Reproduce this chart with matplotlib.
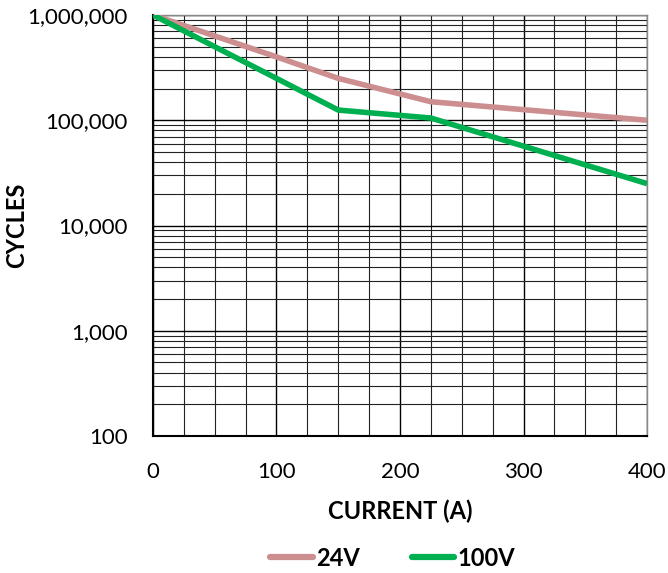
import matplotlib
matplotlib.use("Agg")
import matplotlib.pyplot as plt
from matplotlib.ticker import FixedLocator, FuncFormatter, LogLocator, NullFormatter

current = [0, 100, 150, 225, 400]
cycles_24v = [1000000, 400000, 250000, 150000, 100000]
cycles_100v = [1000000, 250000, 125000, 105000, 25000]

series_names = ["24V", "100V"]
colors = ["#CC8E8E", "#00B050"]

plt.rcParams["font.family"] = ["Lato", "DejaVu Sans"]

fig = plt.figure(figsize=(6.68, 5.73), dpi=100)
ax = fig.add_axes([0.229, 0.2391, 0.7396, 0.7347])

ax.plot(current, cycles_24v, color=colors[0], lw=4.0, solid_capstyle="butt",
        label=series_names[0], zorder=3)
ax.plot(current, cycles_100v, color=colors[1], lw=4.0, solid_capstyle="butt",
        label=series_names[1], zorder=4)

ax.set_yscale("log")
ax.set_xlim(0, 400)
ax.set_ylim(100, 1000000)

ax.xaxis.set_major_locator(FixedLocator(range(0, 401, 100)))
ax.xaxis.set_minor_locator(FixedLocator(range(0, 401, 25)))
ax.yaxis.set_major_locator(LogLocator(base=10))
ax.yaxis.set_minor_locator(LogLocator(base=10, subs=range(2, 10)))
ax.yaxis.set_minor_formatter(NullFormatter())
ax.yaxis.set_major_formatter(FuncFormatter(lambda v, p: f"{int(round(v)):,}"))

ax.grid(True, which="major", axis="both", color="black", lw=1.0)
ax.grid(True, which="minor", axis="both", color="#222222", lw=0.8)
ax.set_axisbelow(True)

ax.tick_params(which="both", length=0)
ax.tick_params(axis="x", labelsize=16, pad=19)
ax.tick_params(axis="y", labelsize=16, pad=18)

for s in ["left", "bottom"]:
    ax.spines[s].set_color("black")
    ax.spines[s].set_linewidth(1.5)
for s in ["top", "right"]:
    ax.spines[s].set_color("#888888")
    ax.spines[s].set_linewidth(1.0)

ax.set_xlabel("CURRENT (A)", fontsize=17, fontweight="bold", va="center")
ax.xaxis.set_label_coords(0.5, -0.178)
ax.set_ylabel("CYCLES", fontsize=17, fontweight="bold", va="center")
ax.yaxis.set_label_coords(-0.275, 0.5)

leg = fig.legend(loc="center", bbox_to_anchor=(0.588, 0.026), ncol=2, frameon=False,
                 prop={"size": 17, "weight": "bold"}, handlelength=1.8,
                 handletextpad=0.15, columnspacing=2.2)
for line in leg.get_lines():
    line.set_linewidth(4.5)
    line.set_solid_capstyle("round")

fig.savefig("out.png", dpi=100)
